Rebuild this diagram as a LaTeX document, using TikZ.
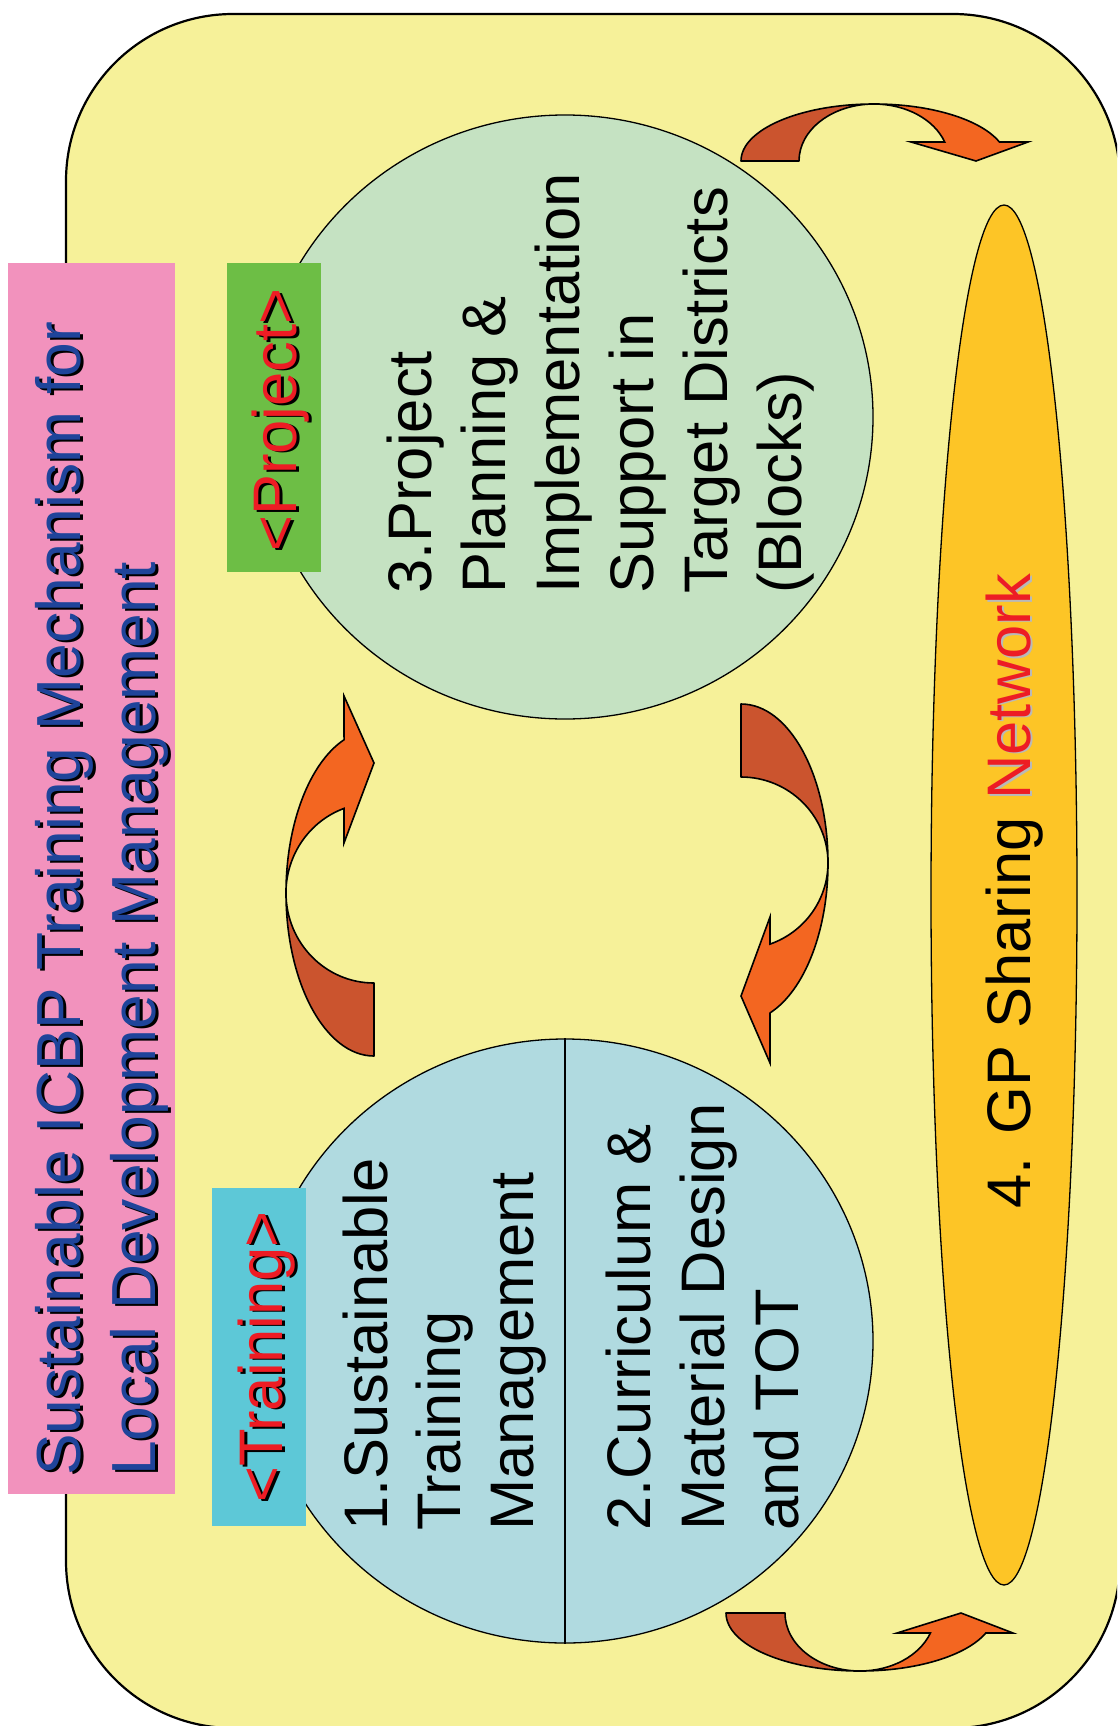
\documentclass[tikz,border=0pt]{standalone}
\usepackage{fontspec}
\setmainfont{Liberation Sans}
\usetikzlibrary{shapes.geometric}

\definecolor{panelfill}{RGB}{246,241,153}
\definecolor{titlepink}{RGB}{242,146,189}
\definecolor{titleblue}{RGB}{31,68,154}
\definecolor{projgreen}{RGB}{109,190,69}
\definecolor{traincyan}{RGB}{93,200,215}
\definecolor{projfill}{RGB}{197,226,194}
\definecolor{trainfill}{RGB}{176,218,224}
\definecolor{netfill}{RGB}{253,197,38}
\definecolor{labelred}{RGB}{237,28,36}
\definecolor{arrowdark}{RGB}{203,84,46}
\definecolor{arroworange}{RGB}{243,102,33}
\definecolor{shadowgrey}{RGB}{185,185,185}

\begin{document}
\begin{tikzpicture}[x=1pt,y=-1pt,
  bigtext/.style={rotate=90, anchor=base west, inner sep=0pt,
    font=\fontsize{61.5}{74}\selectfont},
  titletext/.style={bigtext, font=\fontsize{62.3}{75}\selectfont},
  tagbox/.style={anchor=north west, inner sep=0pt, minimum width=94pt},
  disc/.style={ellipse, draw=black, line width=1.3pt, inner sep=0pt,
    minimum width=616pt, minimum height=604pt},
  backface/.style={fill=arrowdark, draw=black, line width=1.6pt, line join=round},
  frontface/.style={fill=arroworange, draw=black, line width=1.6pt, line join=miter},
]
\clip (0,0) rectangle (1117,1726);
\fill[white] (0,0) rectangle (1117,1726);

% outer panel
\draw[fill=panelfill, line width=2.2pt, rounded corners=167pt] (66,14) rectangle (1120,1728);

% the two discs and the network oval
\node[disc, fill=projfill] (projdisc) at (565,417) {};
\node[disc, fill=trainfill] (traindisc) at (565,1341) {};
\draw[line width=1.3pt] (traindisc.north) -- (traindisc.south);
\node[ellipse, draw=black, line width=1.3pt, fill=netfill, inner sep=0pt,
      minimum width=146pt, minimum height=1380pt] (netoval) at (1004,895) {};

% curved arrows: top
\path[backface] (741,161) arc[start angle=180,end angle=270,x radius=133,y radius=57]
  arc[start angle=270,end angle=180,x radius=75,y radius=57] -- cycle;
\path[frontface] (874,104) arc[start angle=270,end angle=340.5,x radius=133,y radius=57]
  -- (1028,142) -- (976,161) -- (911,142) -- (944.7,142)
  arc[start angle=340.5,end angle=270,x radius=75,y radius=57] -- cycle;

% curved arrows: bottom
\path[backface] (726,1613) arc[start angle=180,end angle=90,x radius=134,y radius=58]
  arc[start angle=90,end angle=180,x radius=75,y radius=58] -- cycle;
\path[frontface] (860,1671) arc[start angle=90,end angle=20.2,x radius=134,y radius=58]
  -- (1013,1633) -- (961,1613) -- (897,1633) -- (930.4,1633)
  arc[start angle=20.2,end angle=90,x radius=75,y radius=58] -- cycle;

% curved arrows: left middle (training -> project)
\path[backface] (374,1056) arc[start angle=90,end angle=180,x radius=88,y radius=163]
  arc[start angle=180,end angle=90,x radius=88,y radius=90] -- cycle;
\path[frontface] (286,893) arc[start angle=180,end angle=250.1,x radius=88,y radius=163]
  -- (344,696) -- (374,763) -- (344,843) -- (344,808.4)
  arc[start angle=250.1,end angle=180,x radius=88,y radius=90] -- cycle;

% curved arrows: right middle (project -> training)
\path[backface] (741,704) arc[start angle=270,end angle=360,x radius=87,y radius=159]
  arc[start angle=360,end angle=270,x radius=87,y radius=86] -- cycle;
\path[frontface] (828,863) arc[start angle=0,end angle=70.5,x radius=87,y radius=159]
  -- (770,1063) -- (741,996) -- (770,917) -- (770,944.1)
  arc[start angle=70.5,end angle=0,x radius=87,y radius=86] -- cycle;

% coloured label boxes
\node[anchor=north west, inner sep=0pt, fill=titlepink, minimum width=167pt,
      minimum height=1231pt] (titlebox) at (8,263) {};
\node[tagbox, fill=projgreen, minimum height=309pt] (projtag) at (227,263) {};
\node[tagbox, fill=traincyan, minimum height=338pt] (traintag) at (212,1188) {};

% title
\node[titletext, text=black] (title1s) at (83,1478) {Sustainable ICBP Training Mechanism for};
\node[titletext, text=titleblue] (title1) at (80,1476) {Sustainable ICBP Training Mechanism for};
\node[titletext, text=black] (title2s) at (158,1478) {Local Development Management};
\node[titletext, text=titleblue] (title2) at (155,1476) {Local Development Management};

% tags
\node[bigtext, text=black] (projlabels) at (299,553.5) {<Project>};
\node[bigtext, text=labelred] (projlabel) at (296,552) {<Project>};
\node[bigtext, text=black] (trainlabels) at (285,1504.5) {<Training>};
\node[bigtext, text=labelred] (trainlabel) at (282,1503) {<Training>};

% project disc text
\node[bigtext] (p1) at (431,594) {3.Project};
\node[bigtext] (p2) at (505,594) {Planning \&};
\node[bigtext] (p3) at (579,594) {Implementation};
\node[bigtext] (p4) at (653,594) {Support in};
\node[bigtext] (p5) at (727,594) {Target Districts};
\node[bigtext] (p6) at (801,594) {(Blocks)};

% training disc text
\node[bigtext] (t1) at (387,1531) {1.Sustainable};
\node[bigtext] (t2) at (460,1531) {Training};
\node[bigtext] (t3) at (533,1531) {Management};
\node[bigtext] (t4) at (650,1531) {2.Curriculum \&};
\node[bigtext] (t5) at (724,1531) {Material Design};
\node[bigtext] (t6) at (798,1531) {and TOT};

% network oval text
\node[bigtext, text=shadowgrey] (nets) at (1032.5,1210.5) {\phantom{4. GP Sharing }Network};
\node[bigtext] (net) at (1030,1209) {4. GP Sharing \textcolor{labelred}{Network}};
\end{tikzpicture}
\end{document}
